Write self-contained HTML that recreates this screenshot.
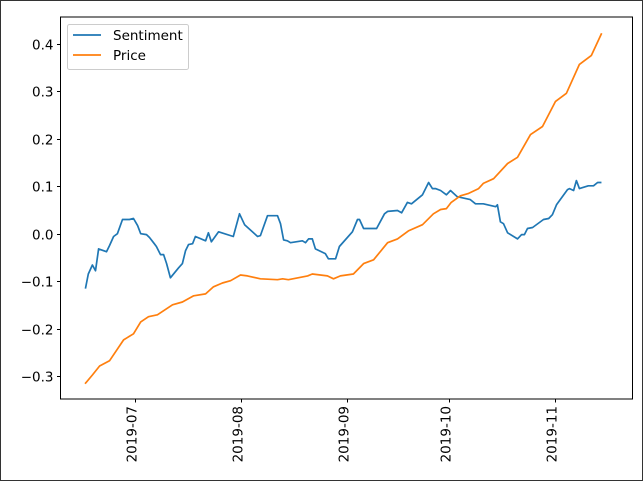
<!DOCTYPE html>
<html><head><meta charset="utf-8"><style>
html,body{margin:0;padding:0;background:#fff;}
#wrap{position:relative;width:641px;height:479px;border:1px solid #333;}
text{font-family:"DejaVu Sans","Liberation Sans",sans-serif;font-size:13.5px;fill:#000;}
</style></head><body>
<div id="wrap">
<svg id="chart" width="641" height="479"></svg>
</div>
<script>
// days offset from 2019-07-01
const sentDays=[-14.3,-13.5,-12.3,-11.4,-10.5,-8.2,-7.3,-6.1,-5.0,-3.5,-1.5,-0.3,0.9,1.8,3.5,4.4,5.8,6.4,7.6,8.5,9.4,10.5,12.9,14.0,14.9,15.8,17.0,17.8,20.8,21.6,22.5,24.6,28.9,30.7,32.2,36.0,36.8,38.9,41.8,42.7,43.6,44.7,45.6,49.1,50.0,50.9,52.0,52.9,55.8,56.7,58.8,59.9,63.7,65.2,65.8,67.0,70.8,73.1,74.0,76.9,78.1,79.8,81.0,84.2,86.0,87.1,88.0,89.5,91.2,92.4,93.3,94.4,98.2,99.7,102.0,105.6,106.1,107.0,107.9,109.1,112.0,113.2,114.0,114.9,116.4,119.6,121.1,122.2,123.4,126.6,127.2,128.4,129.2,130.1,132.7,134.2,135.4,136.3];
const sentiment=[-0.114,-0.085,-0.066,-0.078,-0.032,-0.038,-0.025,-0.006,0.000,0.030,0.030,0.032,0.017,0.000,-0.002,-0.008,-0.021,-0.027,-0.044,-0.044,-0.063,-0.093,-0.072,-0.063,-0.036,-0.023,-0.021,-0.006,-0.015,0.002,-0.017,0.004,-0.006,0.042,0.019,-0.006,-0.004,0.038,0.038,0.021,-0.013,-0.015,-0.019,-0.015,-0.019,-0.011,-0.011,-0.032,-0.042,-0.053,-0.053,-0.027,0.004,0.030,0.030,0.011,0.011,0.042,0.047,0.049,0.044,0.066,0.063,0.082,0.108,0.095,0.095,0.091,0.082,0.091,0.085,0.078,0.072,0.063,0.063,0.057,0.061,0.025,0.021,0.002,-0.011,-0.002,-0.002,0.011,0.013,0.030,0.032,0.040,0.061,0.093,0.095,0.091,0.112,0.095,0.101,0.101,0.108,0.108];
const priceDays=[-14.3,-12.3,-10.2,-7.3,-3.2,-0.3,1.8,4.1,6.7,11.1,14.0,17.3,20.8,23.1,25.7,28.1,31.0,33.0,36.8,41.8,43.3,45.0,50.6,52.0,56.4,58.2,60.2,64.0,67.0,69.9,74.0,76.9,80.1,84.2,87.4,89.5,91.2,92.6,95.3,97.7,100.6,102.0,105.0,109.1,112.0,115.8,119.3,123.1,126.3,130.1,133.6,136.5];
const price=[-0.315,-0.298,-0.279,-0.268,-0.224,-0.211,-0.186,-0.175,-0.171,-0.150,-0.144,-0.131,-0.127,-0.112,-0.104,-0.099,-0.087,-0.089,-0.095,-0.097,-0.095,-0.097,-0.089,-0.085,-0.089,-0.095,-0.089,-0.085,-0.063,-0.055,-0.019,-0.011,0.006,0.019,0.042,0.051,0.053,0.066,0.080,0.085,0.095,0.106,0.116,0.148,0.161,0.209,0.226,0.279,0.296,0.357,0.376,0.421];
const yTicks=[-0.3,-0.2,-0.1,0.0,0.1,0.2,0.3,0.4];
const xTickLabels=["2019-07","2019-08","2019-09","2019-10","2019-11"];
const xTickDays=[0,31,62,92,123];

const svg=document.getElementById('chart');
const NS='http://www.w3.org/2000/svg';
const L=59.5,R=631.5,T=16,B=398;
function xs(d){return 133.5+d*3.42;}
function ys(v){return 232.7-v*474.3;}
function mk(tag,attrs,parent){const e=document.createElementNS(NS,tag);for(const k in attrs)e.setAttribute(k,attrs[k]);(parent||svg).appendChild(e);return e;}

function line(days,vals,color,name){
  let d='';
  for(let i=0;i<days.length;i++)d+=(i?'L':'M')+xs(days[i]).toFixed(1)+','+ys(vals[i]).toFixed(1);
  const p=mk('path',{d:d,fill:'none',stroke:color,'stroke-width':1.7,'stroke-linejoin':'round','stroke-linecap':'square'});
  
  
}
line(sentDays,sentiment,'#1f77b4','sentiment-line');
line(priceDays,price,'#ff7f0e','price-line');

const frame=mk('rect',{x:L,y:T,width:R-L,height:B-T,fill:'none',stroke:'#000','stroke-width':1});



yTicks.forEach(v=>{
  const y=Math.round(ys(v))+0.5;
  const t=mk('line',{x1:L-3.5,x2:L,y1:y,y2:y,stroke:'#000'});
  
  
  const lb=mk('text',{x:L-7,y:y+5,'text-anchor':'end'});
  lb.textContent=(v<0?'\u22120':'0')+'.'+Math.round(Math.abs(v)*10);
  
  
});
xTickDays.forEach((d,i)=>{
  const x=Math.round(xs(d))+0.5;
  const t=mk('line',{x1:x,x2:x,y1:B,y2:B+3.5,stroke:'#000'});
  
  
  const lb=mk('text',{x:0,y:0,'text-anchor':'end',transform:'translate('+(x+1)+','+(B+7)+') rotate(-90)'});
  lb.textContent=xTickLabels[i];
  
  
});

const lg=mk('g',{});


mk('rect',{x:66.5,y:23.5,width:121,height:45,rx:2,fill:'#fff','fill-opacity':0.8,stroke:'#ccc'},lg);
[['Sentiment','#1f77b4',34],['Price','#ff7f0e',54]].forEach(e=>{
  const g=mk('g',{},lg);
  
  
  mk('line',{x1:72,x2:100,y1:e[2],y2:e[2],stroke:e[1],'stroke-width':1.7},g);
  const t=mk('text',{x:112,y:e[2]+5},g);
  t.textContent=e[0];
});
</script>
</body></html>
